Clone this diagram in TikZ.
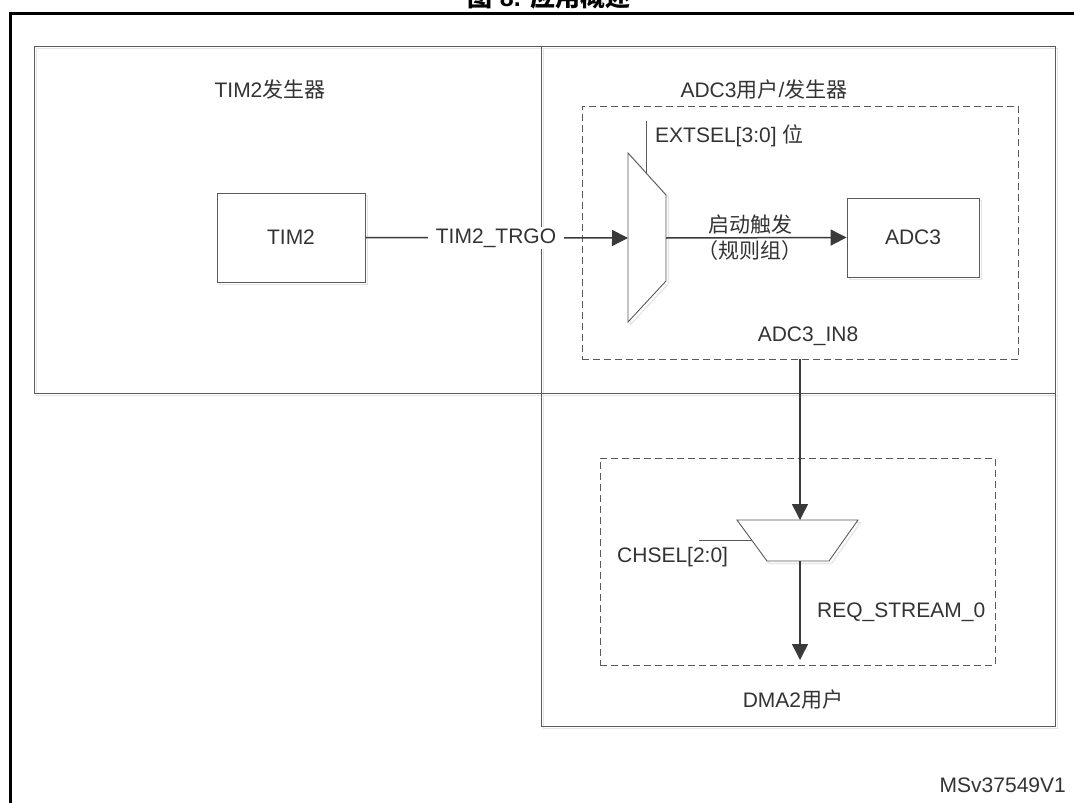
\documentclass[tikz,border=0pt]{standalone}
\usepackage{fontspec}
\setmainfont{Liberation Sans}
\newfontfamily\cjk{Noto Sans CJK SC}
\usetikzlibrary{arrows.meta}
\definecolor{linegray}{HTML}{5A5A5A}
\definecolor{txtgray}{HTML}{333333}
\definecolor{arrgray}{HTML}{3A3A3A}
\begin{document}
\begin{tikzpicture}[x=1pt,y=-1pt,
  every node/.style={text=txtgray, font=\fontsize{21}{25}\selectfont, inner sep=0pt},
  region/.style={draw=linegray, line width=0.9pt, fill=none, minimum width=#1},
  sbox/.style={draw=linegray, line width=0.9pt, fill=white,
    preaction={draw=black!10, line width=1.2pt, transform canvas={shift={(2.5pt,-2.5pt)}}}},
  dbox/.style={draw=linegray, line width=0.9pt, dash pattern=on 7pt off 4pt},
  conn/.style={draw=arrgray, line width=1.5pt},
  arr/.style={conn, -{Triangle[length=16pt,width=16pt]}},
  thin/.style={draw=linegray, line width=0.9pt},
  lbl/.style={anchor=center}
]
\useasboundingbox (0,0) rectangle (1074,803);
\clip (0,0) rectangle (1074,803);
\fill[white] (0,0) rectangle (1074,803);

% title and outer frame
\node[anchor=base, text=black, font=\fontsize{25}{28}\selectfont\bfseries] (title) at (549,6) {{\cjk 图} 8. {\cjk 应用概述}};
\draw[black, line width=3pt] (10,803) -- (10,13) -- (1076,13);

% regions
\draw[region=0pt, preaction={draw=black!10, line width=1.2pt, transform canvas={shift={(2.5pt,-2.5pt)}}}] (34,46) rectangle (541,393);
\draw[region=0pt, preaction={draw=black!10, line width=1.2pt, transform canvas={shift={(2.5pt,-2.5pt)}}}] (541,46) rectangle (1055,393);
\draw[region=0pt, preaction={draw=black!10, line width=1.2pt, transform canvas={shift={(2.5pt,-2.5pt)}}}] (541,393) rectangle (1055,726);

\node (tgen) at (270,90) {TIM2{\cjk 发生器}};
\node (agen) at (764,90) {ADC3{\cjk 用户}/{\cjk 发生器}};
\node (dmau) at (793,700) {DMA2{\cjk 用户}};

% dashed groups
\node[dbox, minimum width=436pt, minimum height=253pt] (dadc) at (800,232.5) {};
\node[dbox, minimum width=395pt, minimum height=207pt] (ddma) at (797.5,561.5) {};

% blocks
\node[sbox, minimum width=148pt, minimum height=89pt] (tim2) at (291,237.5) {TIM2};
\node[sbox, minimum width=132pt, minimum height=79pt] (adc3) at (913,237.5) {ADC3};

% multiplexers
\path[sbox] (628,153) -- (666,195) -- (666,281) -- (628,322) -- cycle;
\coordinate (m1in) at (628,238);
\coordinate (m1out) at (666,238);
\coordinate (m1sel) at (646,173);
\coordinate (m1selend) at (646,121);
\path[sbox] (737,520) -- (858,520) -- (829,561) -- (767,561) -- cycle;
\coordinate (m2in) at (800,520);
\coordinate (m2out) at (800,561);
\coordinate (m2sel) at (751.5,540);
\coordinate (m2selend) at (699,540);
\coordinate (reqend) at (800,660);

% connectors
\draw[arr] (tim2.east) -- (m1in);
\node[fill=white, inner xsep=8pt, inner ysep=2pt] (trgo) at (496,238) {TIM2\_TRGO};
\draw[arr] (m1out) -- (adc3.west);
\draw[thin] (m1selend) -- (m1sel);
\draw[arr] (dadc.south -| m2in) -- (m2in);
\draw[thin] (m2selend) -- (m2sel);
\draw[arr] (m2out) -- (reqend);

% labels
\node[anchor=west] (extsel) at (655,136) {EXTSEL[3:0] {\cjk 位}};
\node (trig1) at (750,225) {\cjk 启动触发};
\node (trig2) at (750,251) {\cjk （规则组）};
\node (in8) at (808,336) {ADC3\_IN8};
\node[anchor=west] (chsel) at (617,557) {CHSEL[2:0]};
\node[anchor=west] (req) at (817,612) {REQ\_STREAM\_0};
\node[anchor=east] (ms) at (1066,785) {MSv37549V1};
\end{tikzpicture}
\end{document}
